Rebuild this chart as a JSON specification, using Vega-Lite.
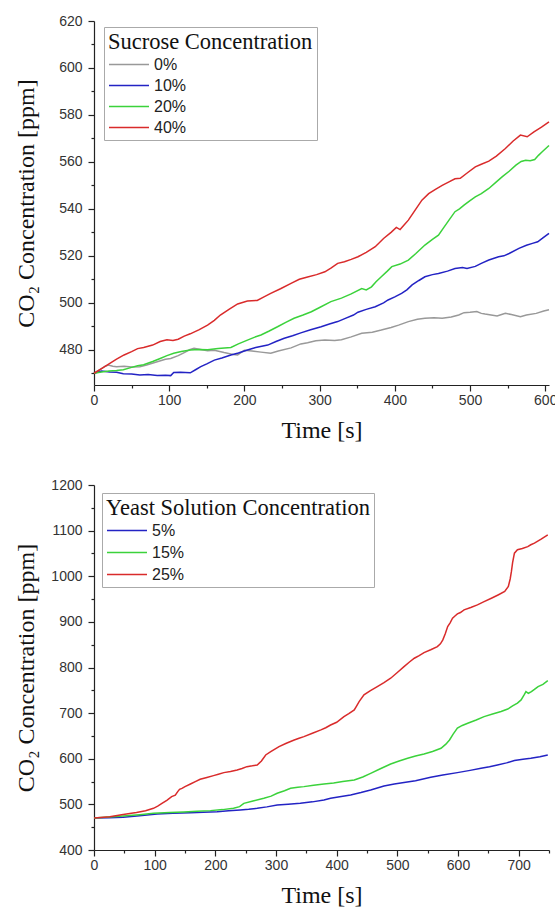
{
  "$schema": "https://vega.github.io/schema/vega-lite/v6.json",
  "background": "white",
  "padding": {"left": 14, "top": 14, "right": 4, "bottom": 0},
  "spacing": 36,
  "config": {
    "view": {"stroke": null},
    "axis": {"grid": false, "domainColor": "#222222", "tickColor": "#222222", "domainWidth": 1.2, "tickWidth": 1.2, "labelColor": "#333333", "labelFont": "Liberation Sans", "labelFontSize": 14, "titleFont": "Liberation Serif", "titleFontSize": 24, "titleFontWeight": "normal", "titleColor": "#111111", "labelFlush": false, "labelOverlap": false, "format": "d"}
  },
  "datasets": {
    "sucrose": [
      {"t":0,"v":470,"s":"0%"},{"t":8,"v":471.5,"s":"0%"},{"t":15,"v":473,"s":"0%"},{"t":19,"v":473.5,"s":"0%"},{"t":25,"v":473,"s":"0%"},{"t":30,"v":472.8,"s":"0%"},{"t":40,"v":473,"s":"0%"},{"t":50,"v":472.7,"s":"0%"},{"t":61,"v":472.8,"s":"0%"},{"t":70,"v":473.5,"s":"0%"},{"t":84,"v":474.9,"s":"0%"},{"t":95,"v":476,"s":"0%"},{"t":102,"v":476.3,"s":"0%"},{"t":112,"v":477.5,"s":"0%"},{"t":120,"v":478.8,"s":"0%"},{"t":127,"v":480,"s":"0%"},{"t":133,"v":480.6,"s":"0%"},{"t":140,"v":480.2,"s":"0%"},{"t":151,"v":479.6,"s":"0%"},{"t":160,"v":479.8,"s":"0%"},{"t":173,"v":478.8,"s":"0%"},{"t":185,"v":478,"s":"0%"},{"t":191,"v":477.8,"s":"0%"},{"t":200,"v":479.8,"s":"0%"},{"t":210,"v":479.5,"s":"0%"},{"t":222,"v":479,"s":"0%"},{"t":235,"v":478.5,"s":"0%"},{"t":245,"v":479.5,"s":"0%"},{"t":262,"v":480.8,"s":"0%"},{"t":275,"v":482.5,"s":"0%"},{"t":284,"v":483,"s":"0%"},{"t":295,"v":483.8,"s":"0%"},{"t":307,"v":484.2,"s":"0%"},{"t":320,"v":484,"s":"0%"},{"t":329,"v":484.3,"s":"0%"},{"t":342,"v":485.5,"s":"0%"},{"t":356,"v":487,"s":"0%"},{"t":370,"v":487.5,"s":"0%"},{"t":382,"v":488.4,"s":"0%"},{"t":395,"v":489.5,"s":"0%"},{"t":405,"v":490.5,"s":"0%"},{"t":418,"v":492,"s":"0%"},{"t":430,"v":493,"s":"0%"},{"t":440,"v":493.4,"s":"0%"},{"t":452,"v":493.6,"s":"0%"},{"t":463,"v":493.4,"s":"0%"},{"t":475,"v":494,"s":"0%"},{"t":485,"v":494.8,"s":"0%"},{"t":492,"v":495.8,"s":"0%"},{"t":500,"v":496,"s":"0%"},{"t":509,"v":496.3,"s":"0%"},{"t":515,"v":495.5,"s":"0%"},{"t":520,"v":495.2,"s":"0%"},{"t":528,"v":494.8,"s":"0%"},{"t":536,"v":494.4,"s":"0%"},{"t":542,"v":495,"s":"0%"},{"t":547,"v":495.5,"s":"0%"},{"t":555,"v":495,"s":"0%"},{"t":567,"v":494.1,"s":"0%"},{"t":575,"v":494.8,"s":"0%"},{"t":588,"v":495.5,"s":"0%"},{"t":598,"v":496.5,"s":"0%"},{"t":605,"v":497,"s":"0%"},
      {"t":0,"v":470,"s":"10%"},{"t":10,"v":471,"s":"10%"},{"t":21,"v":470.5,"s":"10%"},{"t":30,"v":470.4,"s":"10%"},{"t":39,"v":469.8,"s":"10%"},{"t":50,"v":469.7,"s":"10%"},{"t":61,"v":469.3,"s":"10%"},{"t":72,"v":469.5,"s":"10%"},{"t":84,"v":469,"s":"10%"},{"t":95,"v":469.2,"s":"10%"},{"t":102,"v":469,"s":"10%"},{"t":106,"v":470.3,"s":"10%"},{"t":115,"v":470.4,"s":"10%"},{"t":128,"v":470.2,"s":"10%"},{"t":135,"v":471.5,"s":"10%"},{"t":142,"v":472.8,"s":"10%"},{"t":150,"v":474,"s":"10%"},{"t":160,"v":475.6,"s":"10%"},{"t":170,"v":476.5,"s":"10%"},{"t":182,"v":477.8,"s":"10%"},{"t":192,"v":478.6,"s":"10%"},{"t":204,"v":479.9,"s":"10%"},{"t":215,"v":481,"s":"10%"},{"t":231,"v":482,"s":"10%"},{"t":242,"v":483.5,"s":"10%"},{"t":253,"v":484.9,"s":"10%"},{"t":264,"v":486,"s":"10%"},{"t":275,"v":487.2,"s":"10%"},{"t":288,"v":488.5,"s":"10%"},{"t":302,"v":489.8,"s":"10%"},{"t":313,"v":491,"s":"10%"},{"t":324,"v":492,"s":"10%"},{"t":335,"v":493.5,"s":"10%"},{"t":345,"v":494.8,"s":"10%"},{"t":351,"v":496,"s":"10%"},{"t":362,"v":497.2,"s":"10%"},{"t":374,"v":498.3,"s":"10%"},{"t":385,"v":500,"s":"10%"},{"t":391,"v":501.2,"s":"10%"},{"t":400,"v":502.5,"s":"10%"},{"t":409,"v":504,"s":"10%"},{"t":416,"v":505.5,"s":"10%"},{"t":423,"v":507.6,"s":"10%"},{"t":432,"v":509.5,"s":"10%"},{"t":440,"v":511.1,"s":"10%"},{"t":450,"v":512,"s":"10%"},{"t":458,"v":512.5,"s":"10%"},{"t":470,"v":513.5,"s":"10%"},{"t":480,"v":514.6,"s":"10%"},{"t":490,"v":515,"s":"10%"},{"t":496,"v":514.6,"s":"10%"},{"t":507,"v":515.5,"s":"10%"},{"t":515,"v":516.8,"s":"10%"},{"t":525,"v":518.2,"s":"10%"},{"t":538,"v":519.6,"s":"10%"},{"t":545,"v":520,"s":"10%"},{"t":552,"v":521,"s":"10%"},{"t":565,"v":523.2,"s":"10%"},{"t":575,"v":524.5,"s":"10%"},{"t":583,"v":525.3,"s":"10%"},{"t":590,"v":526,"s":"10%"},{"t":596,"v":527.4,"s":"10%"},{"t":605,"v":529.6,"s":"10%"},
      {"t":0,"v":470,"s":"20%"},{"t":10,"v":470.5,"s":"20%"},{"t":20,"v":471,"s":"20%"},{"t":30,"v":471.2,"s":"20%"},{"t":39,"v":471.5,"s":"20%"},{"t":50,"v":472.5,"s":"20%"},{"t":58,"v":473.2,"s":"20%"},{"t":66,"v":473.6,"s":"20%"},{"t":78,"v":475,"s":"20%"},{"t":88,"v":476.3,"s":"20%"},{"t":97,"v":477.5,"s":"20%"},{"t":106,"v":478.5,"s":"20%"},{"t":116,"v":479.3,"s":"20%"},{"t":128,"v":479.9,"s":"20%"},{"t":140,"v":480.1,"s":"20%"},{"t":151,"v":480,"s":"20%"},{"t":165,"v":480.5,"s":"20%"},{"t":182,"v":481,"s":"20%"},{"t":192,"v":482.5,"s":"20%"},{"t":204,"v":484.1,"s":"20%"},{"t":213,"v":485.3,"s":"20%"},{"t":222,"v":486.3,"s":"20%"},{"t":233,"v":488,"s":"20%"},{"t":244,"v":489.8,"s":"20%"},{"t":255,"v":491.7,"s":"20%"},{"t":266,"v":493.4,"s":"20%"},{"t":278,"v":494.8,"s":"20%"},{"t":289,"v":496.2,"s":"20%"},{"t":300,"v":498,"s":"20%"},{"t":315,"v":500.5,"s":"20%"},{"t":329,"v":502,"s":"20%"},{"t":342,"v":503.8,"s":"20%"},{"t":356,"v":506.1,"s":"20%"},{"t":362,"v":505.5,"s":"20%"},{"t":369,"v":506.8,"s":"20%"},{"t":375,"v":509,"s":"20%"},{"t":382,"v":511.1,"s":"20%"},{"t":390,"v":513.5,"s":"20%"},{"t":396,"v":515.4,"s":"20%"},{"t":407,"v":516.5,"s":"20%"},{"t":418,"v":518.2,"s":"20%"},{"t":428,"v":521,"s":"20%"},{"t":440,"v":524.6,"s":"20%"},{"t":450,"v":527,"s":"20%"},{"t":458,"v":528.8,"s":"20%"},{"t":465,"v":532,"s":"20%"},{"t":472,"v":535.2,"s":"20%"},{"t":480,"v":538.8,"s":"20%"},{"t":486,"v":540,"s":"20%"},{"t":492,"v":541.6,"s":"20%"},{"t":500,"v":543.5,"s":"20%"},{"t":507,"v":545.1,"s":"20%"},{"t":515,"v":546.5,"s":"20%"},{"t":525,"v":548.7,"s":"20%"},{"t":535,"v":551.5,"s":"20%"},{"t":543,"v":553.7,"s":"20%"},{"t":552,"v":556,"s":"20%"},{"t":561,"v":558.6,"s":"20%"},{"t":568,"v":560.2,"s":"20%"},{"t":574,"v":560.7,"s":"20%"},{"t":580,"v":560.5,"s":"20%"},{"t":586,"v":561,"s":"20%"},{"t":591,"v":562.8,"s":"20%"},{"t":596,"v":564.3,"s":"20%"},{"t":605,"v":567,"s":"20%"},
      {"t":0,"v":470,"s":"40%"},{"t":10,"v":472,"s":"40%"},{"t":20,"v":474,"s":"40%"},{"t":30,"v":476,"s":"40%"},{"t":40,"v":477.8,"s":"40%"},{"t":50,"v":479.2,"s":"40%"},{"t":58,"v":480.5,"s":"40%"},{"t":66,"v":481,"s":"40%"},{"t":78,"v":482,"s":"40%"},{"t":88,"v":483.5,"s":"40%"},{"t":97,"v":484.3,"s":"40%"},{"t":105,"v":484,"s":"40%"},{"t":112,"v":484.5,"s":"40%"},{"t":120,"v":485.8,"s":"40%"},{"t":128,"v":486.8,"s":"40%"},{"t":140,"v":488.6,"s":"40%"},{"t":151,"v":490.5,"s":"40%"},{"t":160,"v":492.5,"s":"40%"},{"t":168,"v":494.8,"s":"40%"},{"t":180,"v":497.3,"s":"40%"},{"t":191,"v":499.5,"s":"40%"},{"t":204,"v":500.8,"s":"40%"},{"t":217,"v":501,"s":"40%"},{"t":226,"v":502.5,"s":"40%"},{"t":235,"v":504,"s":"40%"},{"t":248,"v":506,"s":"40%"},{"t":262,"v":508.3,"s":"40%"},{"t":273,"v":510,"s":"40%"},{"t":284,"v":511,"s":"40%"},{"t":296,"v":512,"s":"40%"},{"t":307,"v":513.2,"s":"40%"},{"t":315,"v":514.8,"s":"40%"},{"t":324,"v":516.8,"s":"40%"},{"t":333,"v":517.5,"s":"40%"},{"t":342,"v":518.5,"s":"40%"},{"t":351,"v":519.6,"s":"40%"},{"t":362,"v":521.5,"s":"40%"},{"t":374,"v":523.9,"s":"40%"},{"t":385,"v":527.4,"s":"40%"},{"t":395,"v":530,"s":"40%"},{"t":402,"v":532.1,"s":"40%"},{"t":407,"v":531.2,"s":"40%"},{"t":412,"v":533,"s":"40%"},{"t":418,"v":535.2,"s":"40%"},{"t":427,"v":539.5,"s":"40%"},{"t":436,"v":543.7,"s":"40%"},{"t":445,"v":546.5,"s":"40%"},{"t":454,"v":548.3,"s":"40%"},{"t":463,"v":550,"s":"40%"},{"t":472,"v":551.5,"s":"40%"},{"t":480,"v":552.8,"s":"40%"},{"t":487,"v":553,"s":"40%"},{"t":497,"v":555.5,"s":"40%"},{"t":507,"v":557.9,"s":"40%"},{"t":515,"v":559,"s":"40%"},{"t":525,"v":560.3,"s":"40%"},{"t":535,"v":562.5,"s":"40%"},{"t":547,"v":565.7,"s":"40%"},{"t":557,"v":568.8,"s":"40%"},{"t":567,"v":571.4,"s":"40%"},{"t":576,"v":570.7,"s":"40%"},{"t":585,"v":572.8,"s":"40%"},{"t":595,"v":574.8,"s":"40%"},{"t":605,"v":577,"s":"40%"}
    ],
    "yeast": [
      {"t":0,"v":470,"s":"5%"},{"t":25,"v":470.5,"s":"5%"},{"t":48,"v":471.6,"s":"5%"},{"t":75,"v":475,"s":"5%"},{"t":104,"v":479,"s":"5%"},{"t":130,"v":480.5,"s":"5%"},{"t":159,"v":481.9,"s":"5%"},{"t":180,"v":482.8,"s":"5%"},{"t":203,"v":484,"s":"5%"},{"t":222,"v":485.8,"s":"5%"},{"t":241,"v":487.7,"s":"5%"},{"t":255,"v":489.2,"s":"5%"},{"t":269,"v":491.4,"s":"5%"},{"t":285,"v":494.5,"s":"5%"},{"t":302,"v":498.7,"s":"5%"},{"t":320,"v":500.5,"s":"5%"},{"t":340,"v":502.3,"s":"5%"},{"t":360,"v":505.5,"s":"5%"},{"t":379,"v":509.6,"s":"5%"},{"t":390,"v":513.3,"s":"5%"},{"t":405,"v":516.5,"s":"5%"},{"t":423,"v":520.6,"s":"5%"},{"t":440,"v":526,"s":"5%"},{"t":456,"v":531.6,"s":"5%"},{"t":467,"v":536,"s":"5%"},{"t":478,"v":540.4,"s":"5%"},{"t":495,"v":544.5,"s":"5%"},{"t":511,"v":547.7,"s":"5%"},{"t":530,"v":552,"s":"5%"},{"t":555,"v":559.4,"s":"5%"},{"t":575,"v":564.5,"s":"5%"},{"t":599,"v":569.6,"s":"5%"},{"t":620,"v":574.5,"s":"5%"},{"t":638,"v":579.1,"s":"5%"},{"t":652,"v":582.5,"s":"5%"},{"t":665,"v":586.4,"s":"5%"},{"t":680,"v":591,"s":"5%"},{"t":693,"v":596,"s":"5%"},{"t":707,"v":599,"s":"5%"},{"t":720,"v":601,"s":"5%"},{"t":735,"v":604.5,"s":"5%"},{"t":748,"v":608.3,"s":"5%"},
      {"t":0,"v":470,"s":"15%"},{"t":25,"v":472.5,"s":"15%"},{"t":48,"v":474.6,"s":"15%"},{"t":75,"v":477.5,"s":"15%"},{"t":98,"v":480.4,"s":"15%"},{"t":125,"v":482,"s":"15%"},{"t":148,"v":483.3,"s":"15%"},{"t":170,"v":485,"s":"15%"},{"t":192,"v":486.3,"s":"15%"},{"t":212,"v":488.5,"s":"15%"},{"t":230,"v":491.4,"s":"15%"},{"t":240,"v":495,"s":"15%"},{"t":247,"v":502.3,"s":"15%"},{"t":262,"v":507.5,"s":"15%"},{"t":280,"v":513.3,"s":"15%"},{"t":292,"v":518,"s":"15%"},{"t":302,"v":524.3,"s":"15%"},{"t":314,"v":530,"s":"15%"},{"t":324,"v":535.2,"s":"15%"},{"t":336,"v":537.5,"s":"15%"},{"t":346,"v":538.9,"s":"15%"},{"t":362,"v":542,"s":"15%"},{"t":379,"v":544.7,"s":"15%"},{"t":395,"v":547,"s":"15%"},{"t":410,"v":549.9,"s":"15%"},{"t":429,"v":553.5,"s":"15%"},{"t":443,"v":560,"s":"15%"},{"t":456,"v":568,"s":"15%"},{"t":472,"v":578,"s":"15%"},{"t":489,"v":588.6,"s":"15%"},{"t":503,"v":595,"s":"15%"},{"t":517,"v":601,"s":"15%"},{"t":530,"v":606,"s":"15%"},{"t":544,"v":610.5,"s":"15%"},{"t":558,"v":616,"s":"15%"},{"t":572,"v":623,"s":"15%"},{"t":580,"v":632,"s":"15%"},{"t":586,"v":641.2,"s":"15%"},{"t":592,"v":654,"s":"15%"},{"t":599,"v":667,"s":"15%"},{"t":607,"v":673,"s":"15%"},{"t":616,"v":677.8,"s":"15%"},{"t":630,"v":685,"s":"15%"},{"t":643,"v":692.4,"s":"15%"},{"t":657,"v":698,"s":"15%"},{"t":671,"v":703.4,"s":"15%"},{"t":682,"v":709,"s":"15%"},{"t":690,"v":715.8,"s":"15%"},{"t":698,"v":722,"s":"15%"},{"t":704,"v":729,"s":"15%"},{"t":709,"v":740,"s":"15%"},{"t":712,"v":747.2,"s":"15%"},{"t":716,"v":743.5,"s":"15%"},{"t":721,"v":747.2,"s":"15%"},{"t":726,"v":752,"s":"15%"},{"t":732,"v":758.2,"s":"15%"},{"t":740,"v":763,"s":"15%"},{"t":748,"v":771.3,"s":"15%"},
      {"t":0,"v":470,"s":"25%"},{"t":26,"v":473,"s":"25%"},{"t":48,"v":478,"s":"25%"},{"t":70,"v":482,"s":"25%"},{"t":85,"v":486,"s":"25%"},{"t":98,"v":491.4,"s":"25%"},{"t":105,"v":496,"s":"25%"},{"t":112,"v":502,"s":"25%"},{"t":120,"v":509,"s":"25%"},{"t":128,"v":517,"s":"25%"},{"t":134,"v":520,"s":"25%"},{"t":138,"v":528,"s":"25%"},{"t":141,"v":533,"s":"25%"},{"t":145,"v":535,"s":"25%"},{"t":150,"v":539,"s":"25%"},{"t":159,"v":544.7,"s":"25%"},{"t":167,"v":550,"s":"25%"},{"t":175,"v":555,"s":"25%"},{"t":186,"v":559,"s":"25%"},{"t":197,"v":563,"s":"25%"},{"t":205,"v":566,"s":"25%"},{"t":214,"v":569.6,"s":"25%"},{"t":225,"v":572,"s":"25%"},{"t":236,"v":575.4,"s":"25%"},{"t":244,"v":578.5,"s":"25%"},{"t":252,"v":582.7,"s":"25%"},{"t":261,"v":584.5,"s":"25%"},{"t":269,"v":586.4,"s":"25%"},{"t":276,"v":595,"s":"25%"},{"t":283,"v":608.3,"s":"25%"},{"t":292,"v":616,"s":"25%"},{"t":305,"v":626.6,"s":"25%"},{"t":317,"v":634,"s":"25%"},{"t":330,"v":641.2,"s":"25%"},{"t":338,"v":645,"s":"25%"},{"t":346,"v":648.5,"s":"25%"},{"t":360,"v":656,"s":"25%"},{"t":374,"v":663.2,"s":"25%"},{"t":382,"v":668,"s":"25%"},{"t":390,"v":674,"s":"25%"},{"t":400,"v":680,"s":"25%"},{"t":412,"v":692.4,"s":"25%"},{"t":420,"v":699,"s":"25%"},{"t":429,"v":707,"s":"25%"},{"t":433,"v":716,"s":"25%"},{"t":437,"v":725.3,"s":"25%"},{"t":445,"v":740,"s":"25%"},{"t":455,"v":749,"s":"25%"},{"t":467,"v":758.2,"s":"25%"},{"t":478,"v":767,"s":"25%"},{"t":489,"v":776.5,"s":"25%"},{"t":500,"v":789,"s":"25%"},{"t":511,"v":802,"s":"25%"},{"t":520,"v":812,"s":"25%"},{"t":528,"v":820.3,"s":"25%"},{"t":536,"v":826,"s":"25%"},{"t":544,"v":832.7,"s":"25%"},{"t":555,"v":839,"s":"25%"},{"t":566,"v":845.9,"s":"25%"},{"t":571,"v":852,"s":"25%"},{"t":575,"v":860.5,"s":"25%"},{"t":579,"v":874,"s":"25%"},{"t":583,"v":889.8,"s":"25%"},{"t":587,"v":898,"s":"25%"},{"t":591,"v":908,"s":"25%"},{"t":595,"v":913,"s":"25%"},{"t":599,"v":917.5,"s":"25%"},{"t":604,"v":920.5,"s":"25%"},{"t":610,"v":926.3,"s":"25%"},{"t":621,"v":931.5,"s":"25%"},{"t":632,"v":937.3,"s":"25%"},{"t":643,"v":944.5,"s":"25%"},{"t":655,"v":951.9,"s":"25%"},{"t":666,"v":959,"s":"25%"},{"t":677,"v":966.5,"s":"25%"},{"t":683,"v":977.5,"s":"25%"},{"t":686,"v":994,"s":"25%"},{"t":688,"v":1010,"s":"25%"},{"t":690,"v":1030,"s":"25%"},{"t":693,"v":1050.6,"s":"25%"},{"t":698,"v":1058,"s":"25%"},{"t":706,"v":1061,"s":"25%"},{"t":715,"v":1065,"s":"25%"},{"t":720,"v":1069,"s":"25%"},{"t":726,"v":1072.5,"s":"25%"},{"t":737,"v":1081.3,"s":"25%"},{"t":748,"v":1090.8,"s":"25%"}
    ]
  },
  "vconcat": [
    {
      "width": 455,
      "height": 364,
      "data": {"name": "sucrose"},
      "mark": {"type": "line", "strokeWidth": 1.5},
      "encoding": {
        "x": {"field": "t", "type": "quantitative", "scale": {"domain": [0, 605], "nice": false, "zero": false},
          "axis": {"title": "Time [s]", "titleY": 52, "titleBaseline": "alphabetic", "values": [0,50,100,150,200,250,300,350,400,450,500,550,600], "labelExpr": "datum.value % 100 === 0 ? datum.label : ''", "labelPadding": 2, "tickSize": {"condition": {"test": "datum.value % 100 !== 0", "value": 3}, "value": 6}}},
        "y": {"field": "v", "type": "quantitative", "scale": {"domain": [465, 620], "nice": false, "zero": false},
          "axis": {"title": "CO₂ Concentration [ppm]", "titleX": -56, "values": [470,480,490,500,510,520,530,540,550,560,570,580,590,600,610,620], "labelExpr": "datum.value % 20 === 0 ? datum.label : ''", "labelPadding": 6, "tickSize": {"condition": {"test": "datum.value % 20 !== 0", "value": 3}, "value": 6}}},
        "color": {"field": "s", "type": "nominal", "sort": null,
          "scale": {"domain": ["0%", "10%", "20%", "40%"], "range": ["#999999", "#2323c4", "#3bd23b", "#d92b2b"]},
          "legend": {"orient": "none", "legendX": 10, "legendY": 6, "title": "Sucrose Concentration", "titleLimit": 600, "titleFont": "Liberation Serif", "titleFontSize": 22.5, "titleFontWeight": "normal", "titleColor": "#111111", "titlePadding": 0, "labelFont": "Liberation Sans", "labelFontSize": 16, "labelColor": "#222222", "labelOffset": 24, "symbolType": "M-1,0H3", "symbolSize": 400, "symbolStrokeWidth": 1.5, "rowPadding": 2, "padding": 4, "strokeColor": "#aaaaaa", "fillColor": "white"}}
      }
    },
    {
      "width": 455,
      "height": 365,
      "data": {"name": "yeast"},
      "mark": {"type": "line", "strokeWidth": 1.5},
      "encoding": {
        "x": {"field": "t", "type": "quantitative", "scale": {"domain": [0, 750], "nice": false, "zero": false},
          "axis": {"title": "Time [s]", "titleY": 52, "titleBaseline": "alphabetic", "values": [0,50,100,150,200,250,300,350,400,450,500,550,600,650,700,750], "labelExpr": "datum.value % 100 === 0 ? datum.label : ''", "labelPadding": 2, "tickSize": {"condition": {"test": "datum.value % 100 !== 0", "value": 3}, "value": 6}}},
        "y": {"field": "v", "type": "quantitative", "scale": {"domain": [400, 1200], "nice": false, "zero": false},
          "axis": {"title": "CO₂ Concentration [ppm]", "titleX": -56, "values": [400,450,500,550,600,650,700,750,800,850,900,950,1000,1050,1100,1150,1200], "labelExpr": "datum.value % 100 === 0 ? datum.label : ''", "labelPadding": 6, "tickSize": {"condition": {"test": "datum.value % 100 !== 0", "value": 3}, "value": 6}}},
        "color": {"field": "s", "type": "nominal", "sort": null,
          "scale": {"domain": ["5%", "15%", "25%"], "range": ["#2323c4", "#3bd23b", "#d92b2b"]},
          "legend": {"orient": "none", "legendX": 8, "legendY": 8, "title": "Yeast Solution Concentration", "titleLimit": 600, "titleFont": "Liberation Serif", "titleFontSize": 22.5, "titleFontWeight": "normal", "titleColor": "#111111", "titlePadding": 0, "labelFont": "Liberation Sans", "labelFontSize": 16, "labelColor": "#222222", "labelOffset": 24, "symbolType": "M-1,0H3", "symbolSize": 400, "symbolStrokeWidth": 1.5, "rowPadding": 3, "padding": 4, "strokeColor": "#aaaaaa", "fillColor": "white"}}
      }
    }
  ],
  "resolve": {"scale": {"color": "independent", "x": "independent", "y": "independent"}}
}
